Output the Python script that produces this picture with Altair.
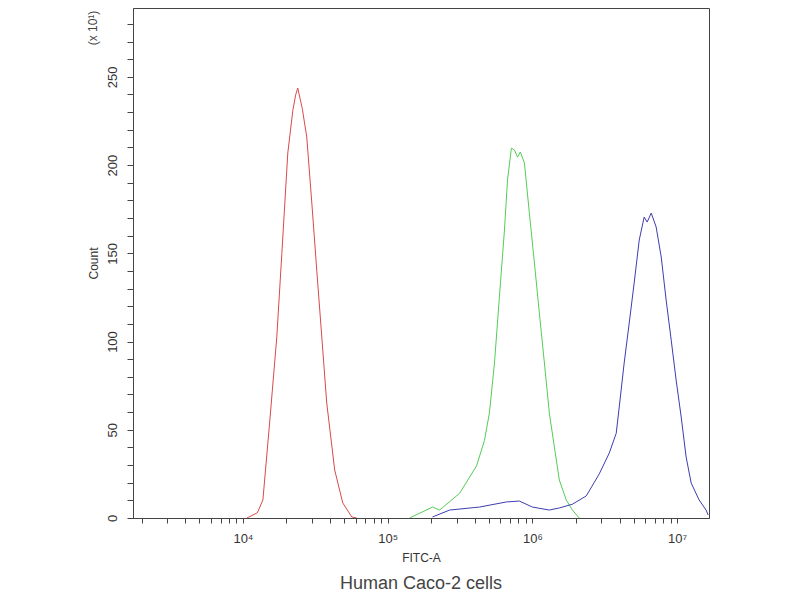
import altair as alt
import pandas as pd

# log10(FITC-A) positions and counts (x10^1)
red_log = [4.028, 4.1, 4.138, 4.186, 4.234, 4.269, 4.31, 4.345, 4.365, 4.379, 4.41, 4.441, 4.476, 4.51, 4.545, 4.579, 4.634, 4.69, 4.752, 4.786]
red_cnt = [0, 3, 10.2, 55.5, 102.5, 150, 206.8, 231, 240, 243.6, 232, 215.9, 178.5, 140.5, 102.5, 65.2, 27.2, 8.5, 0.6, 0]

green_log = [5.152, 5.31, 5.359, 5.497, 5.614, 5.669, 5.703, 5.738, 5.772, 5.807, 5.828, 5.855, 5.876, 5.897, 5.917, 5.945, 5.979, 6.014, 6.048, 6.083, 6.117, 6.152, 6.186, 6.234, 6.276, 6.324]
green_cnt = [0, 6.2, 4.5, 14, 29.5, 44, 59.5, 87.8, 125.2, 163.2, 191.5, 209.6, 208.5, 204.5, 207.4, 201.1, 172.8, 144.5, 116.1, 87.8, 59.5, 40.2, 21.5, 10.2, 4.5, 0]

blue_log = [5.31, 5.428, 5.634, 5.821, 5.91, 6.0, 6.117, 6.186, 6.276, 6.372, 6.462, 6.531, 6.579, 6.6, 6.634, 6.669, 6.703, 6.738, 6.772, 6.793, 6.821, 6.855, 6.89, 6.924, 6.959, 6.993, 7.028, 7.062, 7.097, 7.152, 7.2, 7.214]
blue_cnt = [0.6, 4.5, 6.2, 9.1, 9.6, 6.2, 4.5, 5.7, 7.8, 12.5, 25, 36.8, 48, 62.9, 87.8, 110.5, 133.1, 157.5, 170.5, 167.7, 172.8, 164.9, 147.9, 123.5, 100.8, 78.2, 57.2, 34.6, 19.8, 10.2, 4.5, 1.7]

series_names = ["red", "green", "blue"]
series_colors = ["#d94a4a", "#55cc55", "#3d3db0"]

rows = []
for name, lg, ct in [("red", red_log, red_cnt), ("green", green_log, green_cnt), ("blue", blue_log, blue_cnt)]:
    for i, (a, b) in enumerate(zip(lg, ct)):
        rows.append({"series": name, "order": i, "fitc": 10 ** a, "count": b})
df = pd.DataFrame(rows)

x_ticks = [m * 10 ** e for e in range(3, 8) for m in range(1, 10) if 1740 <= m * 10 ** e <= 1.66e7]
y_ticks = list(range(0, 281, 10))

font = "Liberation Sans"

lines = alt.Chart(df).mark_line(strokeWidth=1, clip=True).encode(
    x=alt.X("fitc:Q",
            scale=alt.Scale(type="log", domain=[1740, 1.66e7], nice=False, zero=False),
            axis=alt.Axis(values=x_ticks, title="FITC-A", grid=False,
                          labelExpr="datum.value==1e4?'10⁴':datum.value==1e5?'10⁵':datum.value==1e6?'10⁶':datum.value==1e7?'10⁷':''",
                          tickSize=5, labelPadding=9, labelFontSize=13, labelColor="#333",
                          titleFontSize=12, titleFontWeight="normal", titleColor="#333",
                          titlePadding=7, titleX=288, titleAlign="center",
                          domainColor="#444", tickColor="#444", labelFont=font, titleFont=font,
                          labelFlush=False)),
    y=alt.Y("count:Q", scale=alt.Scale(domain=[0, 289], nice=False),
            axis=alt.Axis(values=y_ticks, title="Count", grid=False,
                          labelExpr="datum.value % 50 == 0 ? datum.label : ''",
                          labelAngle=-90, labelAlign="center", labelBaseline="bottom",
                          tickSize=6, labelPadding=8, labelFontSize=13, labelColor="#333",
                          titleFontSize=12, titleFontWeight="normal", titleColor="#333",
                          titlePadding=6, domainColor="#444", tickColor="#444",
                          labelFont=font, titleFont=font)),
    color=alt.Color("series:N", scale=alt.Scale(domain=series_names, range=series_colors), legend=None),
    detail="series:N",
    order="order:Q",
)

mult = alt.Chart(pd.DataFrame({"t": ["(x 10¹)"]})).mark_text(
    angle=270, fontSize=12, font=font, color="#444", align="center", baseline="middle"
).encode(text="t:N", x=alt.value(-40), y=alt.value(20))

chart = alt.layer(lines, mult).properties(
    width=576, height=510,
    autosize=alt.AutoSizeParams(type="none"),
    padding={"left": 125, "top": 0, "right": 80, "bottom": 74},
    title=alt.TitleParams("Human Caco-2 cells", orient="bottom", fontSize=18,
                          fontWeight="normal", color="#444", font=font, offset=12, anchor="middle"),
).configure(background="white").configure_view(stroke="#444", strokeWidth=1)

chart.save("out.html", embed_options={"renderer": "svg", "actions": False})
